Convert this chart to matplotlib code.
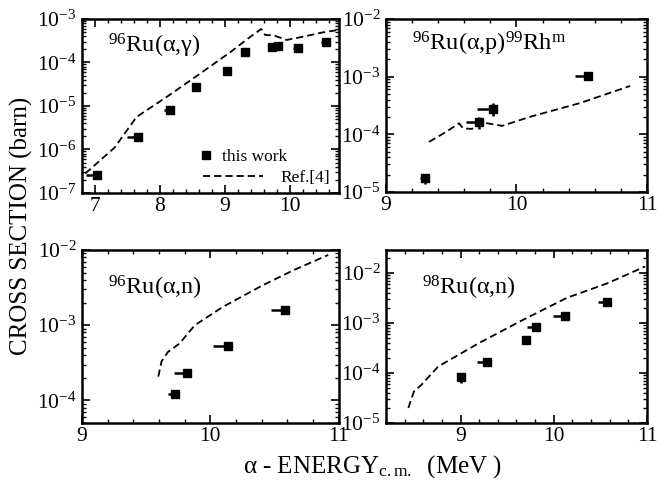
import numpy as np
import matplotlib.pyplot as plt
from matplotlib.lines import Line2D
from matplotlib.ticker import MultipleLocator, LogLocator, FuncFormatter, NullFormatter

plt.rcParams['font.family'] = ['Liberation Serif', 'DejaVu Serif']
plt.rcParams['mathtext.fontset'] = 'custom'
plt.rcParams['mathtext.rm'] = 'Liberation Serif'
plt.rcParams['mathtext.it'] = 'Liberation Serif:italic'

# 96Ru(a,g)
ag_x = [7.03, 7.66, 8.15, 8.55, 9.03, 9.31, 9.72, 9.82, 10.12, 10.56]
ag_y = [2.6e-7, 1.9e-6, 7.9e-6, 2.7e-5, 6.3e-5, 1.7e-4, 2.25e-4, 2.35e-4, 2.15e-4, 2.9e-4]
ag_xerr = [0.17, 0.16, 0.09, 0.03, 0.03, 0.06, 0.06, 0.04, 0.07, 0.08]
ag_calc_x = [6.85, 7.3, 7.64, 8.1, 8.6, 9.1, 9.35, 9.56, 9.62, 9.75, 9.95, 10.2, 10.5, 10.75]
ag_calc_y = [2.8e-7, 1.1e-6, 5.6e-6, 1.6e-5, 5.3e-5, 1.8e-4, 3.5e-4, 5.9e-4, 4.3e-4, 4.2e-4,
             3.3e-4, 3.9e-4, 4.9e-4, 5.6e-4]

# 96Ru(a,p)99Rh^m
ap_x = [9.30, 9.71, 9.82, 10.55]
ap_y = [1.73e-5, 1.61e-4, 2.8e-4, 1.02e-3]
ap_xerr = [0.04, 0.1, 0.12, 0.1]
ap_yrel = [0.2, 0.22, 0.27, 0.15]
ap_calc_x = [9.33, 9.46, 9.56, 9.59, 9.66, 9.72, 9.78, 9.89, 10.10, 10.49, 10.87]
ap_calc_y = [7.4e-5, 1.1e-4, 1.55e-4, 1.27e-4, 1.24e-4, 1.6e-4, 1.55e-4, 1.4e-4, 2.0e-4, 3.5e-4, 6.9e-4]

# 96Ru(a,n)
an6_x = [9.725, 9.82, 10.135, 10.58]
an6_y = [1.2e-4, 2.34e-4, 5.3e-4, 1.59e-3]
an6_xerr = [0.055, 0.1, 0.115, 0.11]
an6_calc_x = [9.595, 9.62, 9.67, 9.76, 9.88, 10.10, 10.41, 10.65, 10.92]
an6_calc_y = [2.07e-4, 3.3e-4, 4.4e-4, 5.7e-4, 1.0e-3, 1.76e-3, 3.4e-3, 5.4e-3, 8.6e-3]

# 98Ru(a,n)
an8_x = [9.0, 9.28, 9.70, 9.81, 10.12, 10.57]
an8_y = [8.2e-5, 1.7e-4, 4.5e-4, 8.2e-4, 1.4e-3, 2.6e-3]
an8_xerr = [0.02, 0.1, 0.03, 0.1, 0.13, 0.1]
an8_yrel = [0.22, 0.1, 0.08, 0.08, 0.06, 0.06]
an8_calc_x = [8.44, 8.50, 8.58, 8.76, 9.20, 9.67, 10.14, 10.58, 10.98]
an8_calc_y = [2e-5, 4.3e-5, 5.8e-5, 1.35e-4, 4e-4, 1.16e-3, 3.2e-3, 6.3e-3, 1.36e-2]

fig = plt.figure(figsize=(6.64, 4.82), dpi=100)

boxes = [[0.1235, 0.5996, 0.3863, 0.3610],
         [0.5813, 0.6017, 0.3931, 0.3589],
         [0.1235, 0.1224, 0.3863, 0.3589],
         [0.5813, 0.1224, 0.3931, 0.3589]]

panels = [
    (ag_x, ag_y, ag_xerr, None, ag_calc_x, ag_calc_y, (6.8, 10.75), (1e-7, 1e-3),
     r'$^{96}$Ru(α,γ)', (0.10, 0.805)),
    (ap_x, ap_y, ap_xerr, ap_yrel, ap_calc_x, ap_calc_y, (9, 11), (1e-5, 1e-2),
     r'$^{96}$Ru(α,p)$^{99}$Rh$^{\mathrm{m}}$', (0.098, 0.82)),
    (an6_x, an6_y, an6_xerr, None, an6_calc_x, an6_calc_y, (9, 11), (5e-5, 1e-2),
     r'$^{96}$Ru(α,n)', (0.10, 0.74)),
    (an8_x, an8_y, an8_xerr, an8_yrel, an8_calc_x, an8_calc_y, (8.2, 11), (1e-5, 2.9e-2),
     r'$^{98}$Ru(α,n)', (0.137, 0.744)),
]

fmt = FuncFormatter(lambda v, pos: r'$\mathregular{10^{%d}}$' % round(np.log10(v)))

for i, (box, (x, y, xe, yrel, cx, cy, xl, yl, label, lpos)) in enumerate(zip(boxes, panels)):
    ax = fig.add_axes(box)
    ax.set_yscale('log')
    x = np.array(x)
    y = np.array(y)
    yerr = None
    if yrel is not None:
        yerr = y * np.array(yrel)
    ax.plot(cx, cy, color='black', lw=1.3, ls=(0, (4, 2.2)))
    ax.errorbar(x, y, xerr=[xe, np.zeros(len(xe))], yerr=yerr, fmt='s', ms=5.5,
                color='black', elinewidth=1.8, capsize=0)
    ax.set_xlim(*xl)
    ax.set_ylim(*yl)
    ax.xaxis.set_major_locator(MultipleLocator(1))
    ax.xaxis.set_minor_locator(MultipleLocator(0.2))
    ax.yaxis.set_major_locator(LogLocator(base=10, numticks=20))
    ax.yaxis.set_minor_locator(LogLocator(base=10, subs=np.arange(2, 10), numticks=20))
    ax.yaxis.set_major_formatter(fmt)
    ax.yaxis.set_minor_formatter(NullFormatter())
    ax.tick_params(which='both', direction='in', top=True, right=True, labelsize=15.5)
    ax.tick_params(which='major', length=6, width=1.2)
    ax.tick_params(which='minor', length=3, width=1.0)
    ax.tick_params(axis='y', pad=4)
    ax.tick_params(axis='x', pad=3)
    for s in ax.spines.values():
        s.set_linewidth(1.8)
    ax.text(lpos[0], lpos[1], label, transform=ax.transAxes, fontsize=17.5, va='baseline')
    if i == 0:
        pt = Line2D([], [], color='black', marker='s', ms=5.5, ls='none')
        dl = Line2D([], [], color='black', lw=1.3, ls=(0, (4, 2.2)))
        leg1 = ax.legend([pt], ['this work'], loc='center left', bbox_to_anchor=(0.448, 0.207),
                         frameon=False, fontsize=12.5, handlelength=1, handletextpad=0.46,
                         borderpad=0, borderaxespad=0)
        ax.add_artist(leg1)
        ax.legend([dl], ['Ref.[4]'], loc='center left', bbox_to_anchor=(0.472, 0.0845),
                  frameon=False, fontsize=12.5, handlelength=3.45, handletextpad=0.98,
                  borderpad=0, borderaxespad=0)

fig.text(0.033, 0.531, 'CROSS SECTION (barn)', rotation=90, fontsize=18,
         ha='center', va='center')
fig.text(0.366, 0.019, r'α - ENERGY$_{\mathrm{c.m.}}$  (MeV )', fontsize=18,
         ha='left', va='baseline')

fig.savefig('out.png', dpi=100)
